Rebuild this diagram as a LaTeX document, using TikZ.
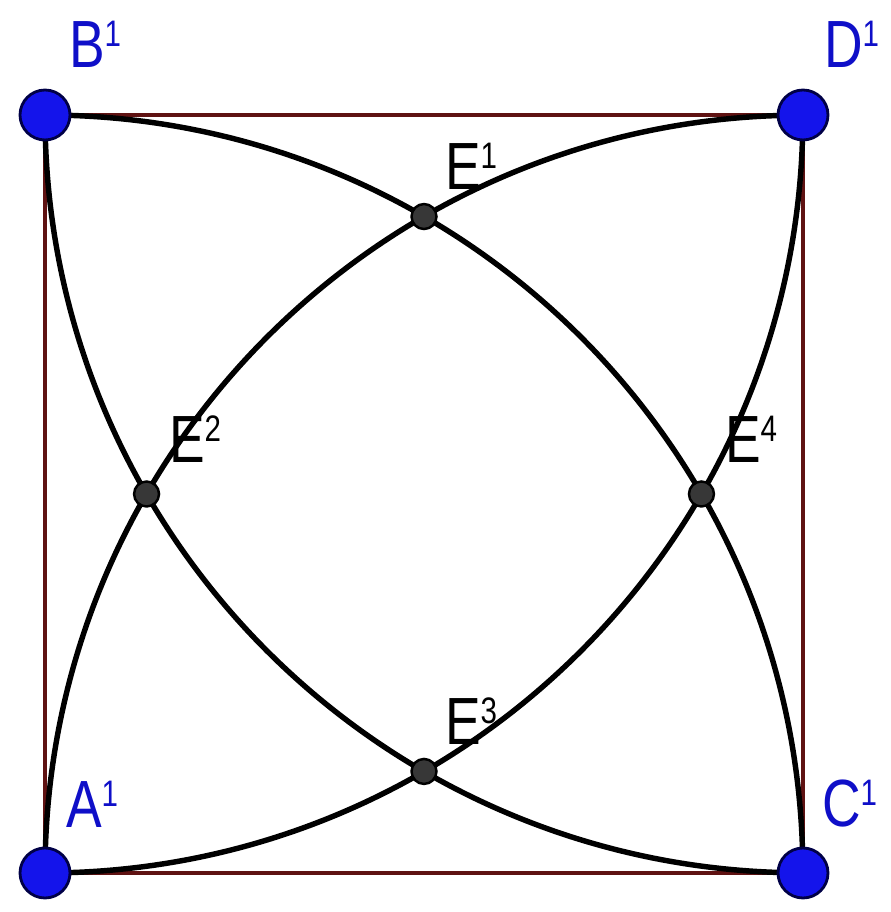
\documentclass[tikz,border=0pt]{standalone}
\usepackage{fontspec}
\setmainfont{Liberation Sans}
\definecolor{edgered}{RGB}{95,18,18}
\definecolor{ptblue}{RGB}{20,20,235}
\definecolor{ptnavy}{RGB}{0,0,70}
\definecolor{lblblue}{RGB}{15,15,200}
\definecolor{egray}{RGB}{55,55,55}
\newcommand{\ptlbl}[2]{\scalebox{0.8}[1]{\fontsize{38}{38}\selectfont #1\raisebox{12.5pt}{\fontsize{21}{21}\selectfont #2}}}
\tikzset{
  sqedge/.style={draw=edgered, line width=2.8pt},
  arcline/.style={draw=black, line width=3.1pt},
  bluept/.style={circle, fill=ptblue, draw=ptnavy, line width=1.6pt, minimum size=1.0cm, inner sep=0pt},
  ept/.style={circle, fill=egray, draw=black, line width=1.4pt, minimum size=0.5cm, inner sep=0pt},
  bluelbl/.style={text=lblblue, anchor=base west, inner sep=0pt, outer sep=0pt},
  elbl/.style={text=black, anchor=base west, inner sep=0pt, outer sep=0pt}
}
\begin{document}
\begin{tikzpicture}[x=0.02cm, y=0.02cm]
\useasboundingbox (0,0) rectangle (890,912);
% corners
\coordinate (A) at (45,39);
\coordinate (B) at (45,797);
\coordinate (C) at (803,39);
\coordinate (D) at (803,797);
% intersections
\coordinate (E1) at (424,695.45);
\coordinate (E2) at (146.55,418);
\coordinate (E3) at (424,140.55);
\coordinate (E4) at (701.45,418);
% square
\draw[sqedge] (A) -- (C) -- (D) -- (B) -- cycle;
% quarter-circle arcs
\draw[arcline] (B) arc[start angle=90, end angle=0, radius=15.16cm];
\draw[arcline] (A) arc[start angle=-90, end angle=0, radius=15.16cm];
\draw[arcline] (A) arc[start angle=180, end angle=90, radius=15.16cm];
\draw[arcline] (B) arc[start angle=180, end angle=270, radius=15.16cm];
% points
\node[bluept] (pA) at (A) {};
\node[bluept] (pB) at (B) {};
\node[bluept] (pC) at (C) {};
\node[bluept] (pD) at (D) {};
\node[ept] (pE1) at (E1) {};
\node[ept] (pE2) at (E2) {};
\node[ept] (pE3) at (E3) {};
\node[ept] (pE4) at (E4) {};
% labels
\node[bluelbl] (lB) at (69,844) {\ptlbl{B}{1}};
\node[bluelbl] (lD) at (824,844) {\ptlbl{D}{1}};
\node[bluelbl] (lA) at (66,84) {\ptlbl{A}{1}};
\node[bluelbl] (lC) at (822,85) {\ptlbl{C}{1}};
\node[elbl] (lE1) at (445,722) {\ptlbl{E}{1}};
\node[elbl] (lE2) at (169,449) {\ptlbl{E}{2}};
\node[elbl] (lE3) at (445,167) {\ptlbl{E}{3}};
\node[elbl] (lE4) at (725,449) {\ptlbl{E}{4}};
\end{tikzpicture}
\end{document}
